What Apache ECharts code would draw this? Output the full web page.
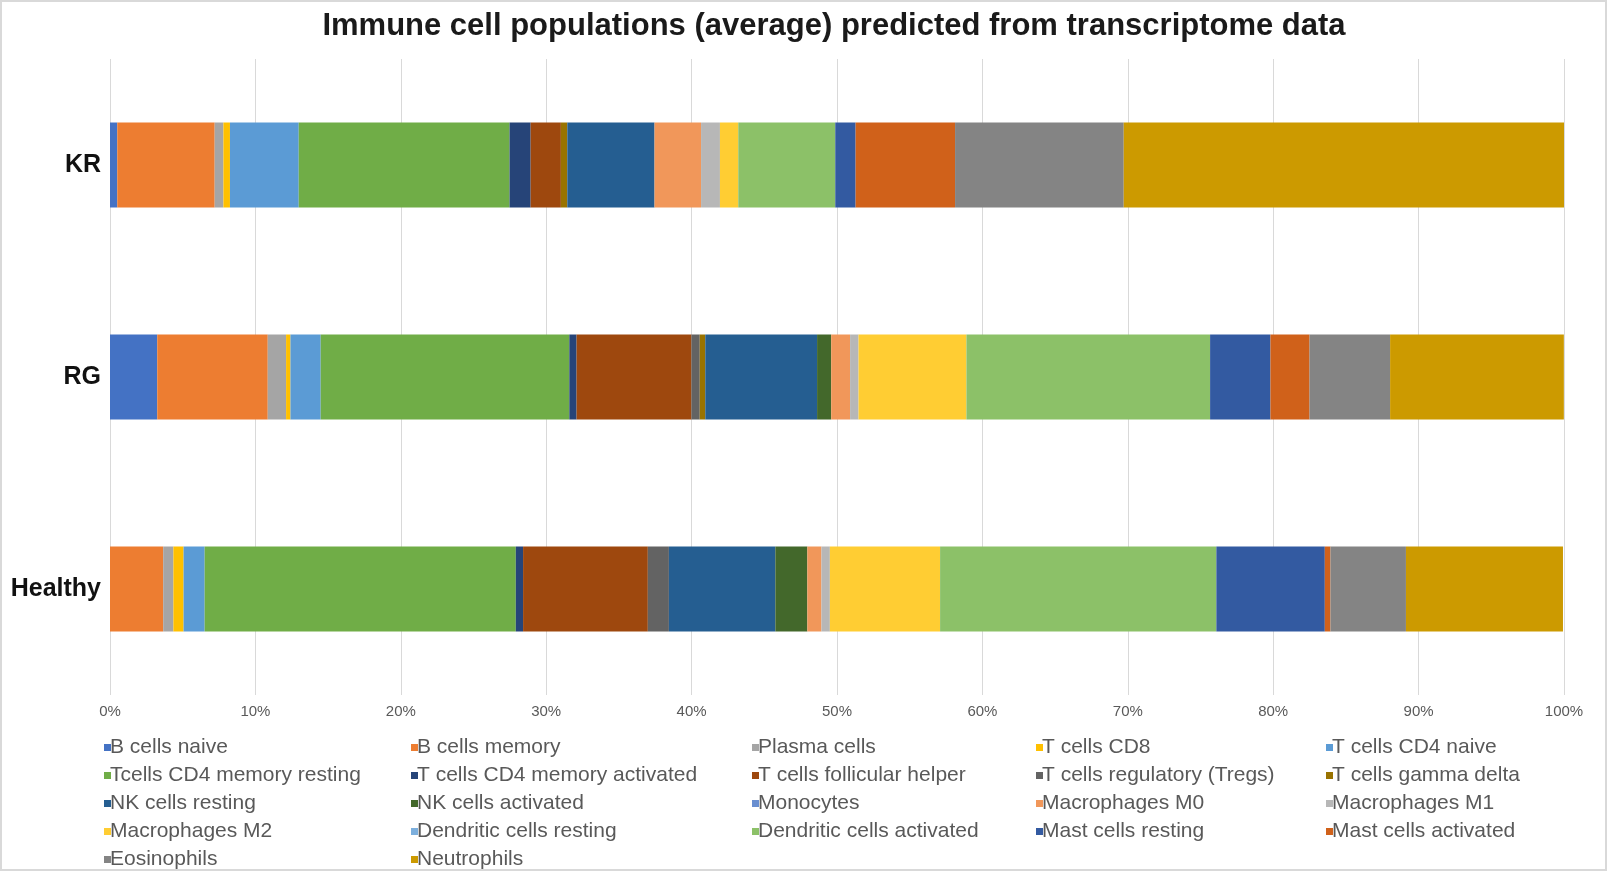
<!DOCTYPE html>
<html>
<head>
<meta charset="utf-8">
<script src="https://cdn.jsdelivr.net/npm/echarts@6/dist/echarts.min.js"></script>
<style>
    html, body { margin: 0; padding: 0; background: #fff; }
    #main { width: 1607px; height: 871px; outline: 2px solid #d9d9d9; outline-offset: -2px; }
</style>
</head>
<body>
<div id="main"></div>
<script>
// categories, bottom to top
var categories = ['Healthy', 'RG', 'KR'];

var cellTypes = [
    'B cells naive', 'B cells memory', 'Plasma cells', 'T cells CD8', 'T cells CD4 naive',
    'Tcells CD4 memory resting', 'T cells CD4 memory activated', 'T cells follicular helper', 'T cells regulatory (Tregs)', 'T cells gamma delta',
    'NK cells resting', 'NK cells activated', 'Monocytes', 'Macrophages M0', 'Macrophages M1',
    'Macrophages M2', 'Dendritic cells resting', 'Dendritic cells activated', 'Mast cells resting', 'Mast cells activated',
    'Eosinophils', 'Neutrophils'
];

// average fraction (%) per cell type, same order as cellTypes
var healthyValues = [0, 3.66, 0.7, 0.7, 1.45, 21.4, 0.5, 8.58, 1.45, 0, 7.32, 2.2, 0, 0.97, 0.58, 7.58, 0, 19.0, 7.46, 0.39, 5.19, 10.8];
var rgValues = [3.25, 7.6, 1.26, 0.3, 2.08, 17.1, 0.5, 7.9, 0.57, 0.38, 7.69, 0.97, 0, 1.3, 0.58, 7.42, 0, 16.76, 4.15, 2.69, 5.54, 11.95];
var krValues = [0.5, 6.7, 0.6, 0.45, 4.73, 14.5, 1.45, 2.08, 0, 0.44, 6.0, 0, 0, 3.2, 1.3, 1.26, 0, 6.67, 1.4, 6.84, 11.6, 30.28];

var colors = [
    '#4472C4', '#ED7D31', '#A5A5A5', '#FFC000', '#5B9BD5',
    '#70AD47', '#264478', '#9E480E', '#636363', '#997300',
    '#255E91', '#43682B', '#698ED0', '#F1975A', '#B7B7B7',
    '#FFCD33', '#7CAFDD', '#8CC168', '#335AA1', '#D0611A',
    '#848484', '#CC9A00'
];

var fontFamily = '"Liberation Sans", Arial, Helvetica, sans-serif';

var series = cellTypes.map(function (name, i) {
    return {
        name: name,
        type: 'bar',
        stack: 'total',
        barWidth: 85,
        data: [healthyValues[i], rgValues[i], krValues[i]]
    };
});

// legend laid out as 5 columns
var legendCols = [104, 411, 752, 1036, 1326];
var legends = legendCols.map(function (x, col) {
    var names = cellTypes.filter(function (n, i) { return i % 5 === col; });
    return {
        orient: 'vertical',
        left: x,
        top: 737,
        height: 180,
        padding: 0,
        itemGap: 7,
        itemWidth: 7,
        itemHeight: 7,
        icon: 'rect',
        selectedMode: false,
        data: names,
        textStyle: {
            fontFamily: fontFamily,
            fontSize: 21,
            lineHeight: 20,
            color: '#595959',
            padding: [0, 0, 0, -6]
        }
    };
});

var chart = echarts.init(document.getElementById('main'), null, { renderer: 'canvas' });
chart.setOption({
    color: colors,
    animation: false,
    title: {
        text: 'Immune cell populations (average) predicted from transcriptome data',
        left: 829,
        top: 6,
        textAlign: 'center',
        textStyle: {
            fontFamily: fontFamily,
            fontSize: 31,
            fontWeight: 'bold',
            color: '#1a1a1a'
        }
    },
    legend: legends,
    grid: {
        left: 110,
        right: 43,
        top: 59,
        bottom: 176
    },
    xAxis: {
        type: 'value',
        min: 0,
        max: 100,
        interval: 10,
        axisLine: { show: false },
        axisTick: { show: false },
        splitLine: { lineStyle: { color: '#d9d9d9', width: 1 } },
        axisLabel: {
            formatter: '{value}%',
            margin: 9,
            fontFamily: fontFamily,
            fontSize: 15,
            color: '#595959'
        }
    },
    yAxis: {
        type: 'category',
        data: categories,
        axisLine: { show: false },
        axisTick: { show: false },
        axisLabel: {
            margin: 9,
            fontFamily: fontFamily,
            fontSize: 25,
            fontWeight: 'bold',
            color: '#111'
        }
    },
    series: series
});
</script>
</body>
</html>
